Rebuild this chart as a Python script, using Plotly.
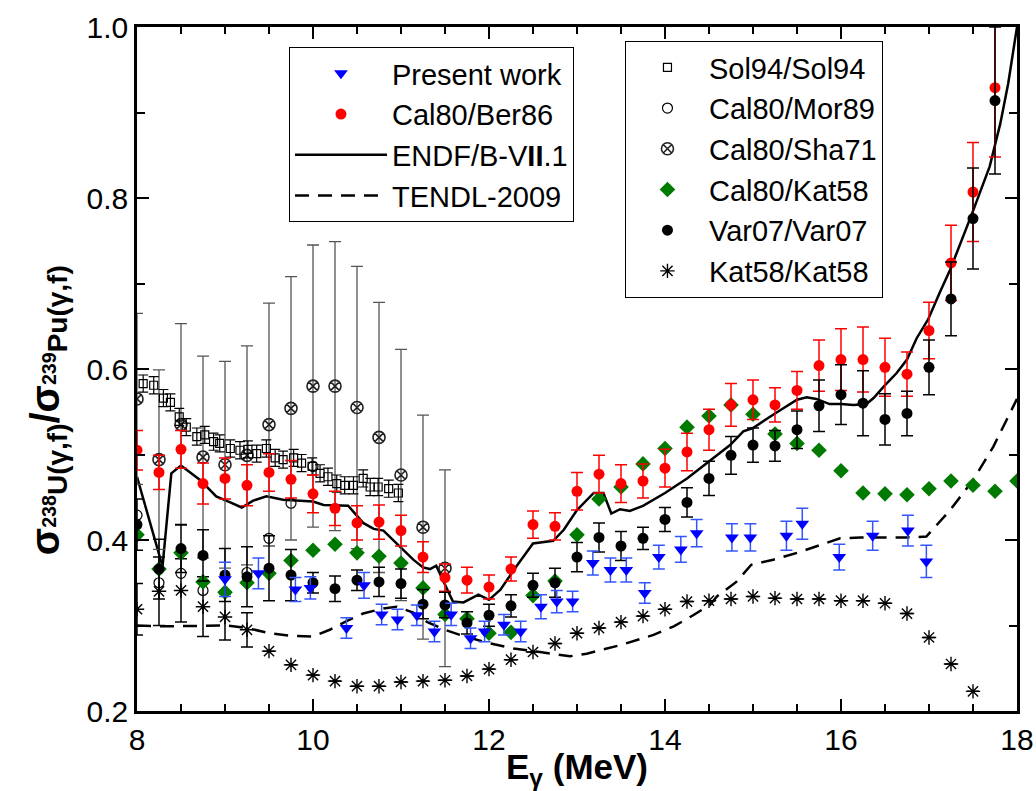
import plotly.graph_objects as go

# ---------------- data ----------------
# Present work (blue down-triangles)
pw_e = [9.00, 9.38, 9.80, 9.97, 10.38, 10.58, 10.78, 10.96, 11.18, 11.38, 11.57, 11.79,
        11.95, 12.17, 12.36, 12.59, 12.77, 12.95, 13.18, 13.38, 13.56, 13.77, 13.93, 14.18,
        14.36, 14.76, 14.97, 15.38, 15.56, 15.98, 16.36, 16.76, 16.97]
pw_r = [0.354, 0.361, 0.342, 0.344, 0.297, 0.347, 0.313, 0.307, 0.312, 0.293, 0.313, 0.285,
        0.293, 0.301, 0.293, 0.322, 0.328, 0.328, 0.373, 0.365, 0.365, 0.338, 0.380, 0.389,
        0.408, 0.403, 0.403, 0.405, 0.419, 0.380, 0.405, 0.411, 0.375]
pw_err = [0.020, 0.018, 0.014, 0.013, 0.012, 0.015, 0.012, 0.012, 0.012, 0.012, 0.013, 0.012,
          0.012, 0.012, 0.012, 0.014, 0.013, 0.012, 0.014, 0.014, 0.014, 0.012, 0.014, 0.015,
          0.016, 0.016, 0.016, 0.017, 0.018, 0.015, 0.017, 0.018, 0.019]

# Regular 0.25 MeV grid shared by several compilations
grid_e = [8.00, 8.25, 8.50, 8.75, 9.00, 9.25, 9.50, 9.75, 10.00, 10.25, 10.50, 10.75,
          11.00, 11.25, 11.50, 11.75, 12.00, 12.25, 12.50, 12.75, 13.00, 13.25, 13.50, 13.75,
          14.00, 14.25, 14.50, 14.75, 15.00, 15.25, 15.50, 15.75, 16.00, 16.25, 16.50, 16.75,
          17.00, 17.25, 17.50, 17.75]

# Cal80/Ber86 (red circles)
ber_r = [0.505, 0.479, 0.506, 0.466, 0.472, 0.464, 0.479, 0.471, 0.454, 0.437, 0.420, 0.421,
         0.411, 0.380, 0.356, 0.353, 0.345, 0.366, 0.418, 0.416, 0.457, 0.477, 0.466, 0.469,
         0.484, 0.503, 0.529, 0.558, 0.564, 0.558, 0.575, 0.604, 0.611, 0.611, 0.602, 0.594,
         0.645, 0.724, 0.807, 0.929]
ber_err = [0.023, 0.020, 0.022, 0.024, 0.024, 0.024, 0.022, 0.022, 0.022, 0.020, 0.020, 0.020,
           0.018, 0.018, 0.016, 0.015, 0.014, 0.014, 0.016, 0.016, 0.022, 0.022, 0.022, 0.020,
           0.022, 0.022, 0.024, 0.025, 0.023, 0.020, 0.022, 0.030, 0.036, 0.038, 0.034, 0.026,
           0.033, 0.044, 0.058, 0.081]

# Var07/Var07 (black circles)
var_r = [0.418, 0.366, 0.390, 0.382, 0.359, 0.357, 0.367, 0.359, 0.350, 0.343, 0.353, 0.351,
         0.349, 0.325, 0.324, 0.303, 0.312, 0.323, 0.347, 0.350, 0.380, 0.403, 0.393, 0.402,
         0.424, 0.444, 0.472, 0.499, 0.511, 0.510, 0.529, 0.557, 0.570, 0.560, 0.541, 0.548,
         0.602, 0.682, 0.776, 0.914]
var_err = [0.030, 0.035, 0.028, 0.030, 0.031, 0.035, 0.038, 0.030, 0.012, 0.015, 0.012, 0.017,
           0.017, 0.017, 0.015, 0.013, 0.013, 0.013, 0.014, 0.017, 0.017, 0.017, 0.017, 0.013,
           0.014, 0.017, 0.020, 0.022, 0.020, 0.018, 0.022, 0.030, 0.035, 0.038, 0.030, 0.026,
           0.032, 0.043, 0.059, 0.086]

# Cal80/Kat58 (green diamonds)
ck_e = grid_e + [18.00]
ck_r = [0.406, 0.366, 0.385, 0.351, 0.339, 0.350, 0.361, 0.376, 0.388, 0.395, 0.385, 0.381,
        0.373, 0.344, 0.313, 0.308, 0.291, 0.292, 0.335, 0.352, 0.406, 0.448, 0.462, 0.489,
        0.507, 0.532, 0.545, 0.558, 0.547, 0.524, 0.513, 0.505, 0.481, 0.455, 0.454, 0.453,
        0.460, 0.469, 0.464, 0.457, 0.469]

# Kat58/Kat58 (asterisks)
kat_e = grid_e[:39]
kat_r = [0.319, 0.340, 0.341, 0.322, 0.310, 0.295, 0.270, 0.254, 0.242, 0.235, 0.229, 0.229,
         0.234, 0.235, 0.236, 0.241, 0.249, 0.260, 0.269, 0.279, 0.291, 0.297, 0.304, 0.311,
         0.319, 0.328, 0.329, 0.331, 0.334, 0.332, 0.331, 0.331, 0.329, 0.329, 0.326, 0.314,
         0.286, 0.255, 0.223]
kat_err = [0.030, 0.040, 0.037, 0.035, 0.027, 0.020] + [0.0] * 33

# Cal80/Mor89 (open circles)
mor_e = [8.00, 8.25, 8.50, 8.75, 9.25, 9.50, 9.75, 10.00]
mor_r = [0.429, 0.350, 0.361, 0.341, 0.362, 0.402, 0.443, 0.486]

# Cal80/Sha71 (crossed circles)
sha_e = [8.00, 8.25, 8.50, 8.75, 9.00, 9.25, 9.50, 9.75, 10.00, 10.25, 10.50, 10.75,
         11.00, 11.25, 11.50]
sha_r = [0.565, 0.494, 0.535, 0.497, 0.488, 0.499, 0.535, 0.554, 0.580, 0.580, 0.555, 0.520,
         0.476, 0.415, 0.367]
sha_err = [0.100, 0.105, 0.118, 0.118, 0.121, 0.128, 0.142, 0.154, 0.165, 0.169, 0.165, 0.158,
           0.147, 0.131, 0.115]

# Sol94/Sol94 (open squares)
sol_e = [8.07, 8.19, 8.30, 8.38, 8.48, 8.56, 8.68, 8.77, 8.87, 8.94, 9.06, 9.17, 9.26, 9.36,
         9.47, 9.57, 9.66, 9.78, 9.87, 9.99, 10.08, 10.17, 10.27, 10.36, 10.46, 10.57, 10.65,
         10.74, 10.86, 10.97]
sol_r = [0.583, 0.581, 0.566, 0.561, 0.544, 0.532, 0.521, 0.523, 0.515, 0.513, 0.507, 0.505,
         0.506, 0.501, 0.507, 0.496, 0.494, 0.496, 0.490, 0.486, 0.478, 0.474, 0.466, 0.464,
         0.464, 0.472, 0.462, 0.462, 0.460, 0.455]
sol_err = [0.010] * 30

# ENDF/B-VII.1 evaluation
endf_e = [8.00, 8.29, 8.39, 8.50, 8.72, 8.90, 9.06, 9.19, 9.32, 9.47, 9.66, 9.85, 10.00,
          10.12, 10.40, 10.57, 10.69, 10.80, 10.95, 11.14, 11.25, 11.33, 11.40, 11.50, 11.59,
          11.71, 11.88, 12.00, 12.13, 12.31, 12.50, 12.73, 12.85, 13.00, 13.19, 13.30, 13.39,
          13.49, 13.60, 13.75, 13.87, 14.00, 14.25, 14.40, 14.59, 14.74, 14.89, 15.00, 15.25,
          15.50, 15.61, 15.72, 15.87, 16.00, 16.14, 16.29, 16.37, 16.49, 16.63, 16.75, 16.86,
          16.99, 17.12, 17.24, 17.49, 17.69, 17.81, 17.90, 18.00]
endf_r = [0.474, 0.369, 0.478, 0.487, 0.470, 0.451, 0.444, 0.438, 0.446, 0.451, 0.447, 0.446,
          0.445, 0.441, 0.440, 0.420, 0.413, 0.411, 0.396, 0.377, 0.368, 0.366, 0.370, 0.347,
          0.328, 0.327, 0.336, 0.330, 0.342, 0.369, 0.396, 0.399, 0.412, 0.435, 0.455, 0.455,
          0.431, 0.436, 0.434, 0.440, 0.447, 0.455, 0.472, 0.484, 0.499, 0.511, 0.527, 0.531,
          0.548, 0.564, 0.567, 0.565, 0.559, 0.559, 0.558, 0.559, 0.566, 0.580, 0.595, 0.611,
          0.636, 0.658, 0.689, 0.716, 0.782, 0.837, 0.887, 0.934, 1.000]

# TENDL-2009 evaluation
tendl_e = [8.00, 8.26, 9.02, 9.25, 9.51, 9.74, 10.00, 10.19, 10.38, 10.57, 10.80, 10.95,
           11.14, 11.30, 11.50, 11.67, 11.97, 12.28, 12.58, 12.92, 13.11, 13.49, 13.87, 14.10,
           14.32, 14.51, 14.59, 14.81, 14.98, 15.23, 15.50, 15.72, 15.99, 16.22, 16.75, 16.97,
           17.24, 17.50, 17.73, 18.00]
tendl_r = [0.300, 0.299, 0.300, 0.297, 0.291, 0.288, 0.287, 0.295, 0.305, 0.314, 0.320, 0.322,
           0.315, 0.304, 0.295, 0.289, 0.280, 0.273, 0.269, 0.264, 0.267, 0.277, 0.289, 0.299,
           0.312, 0.324, 0.334, 0.351, 0.371, 0.377, 0.385, 0.393, 0.402, 0.403, 0.403, 0.404,
           0.435, 0.470, 0.509, 0.565]

x_ticks = [8, 10, 12, 14, 16, 18]
y_ticks = [0.2, 0.4, 0.6, 0.8, 1.0]

# ---------------- figure ----------------
FONT = "Liberation Sans, Arial, Helvetica, sans-serif"
fig = go.Figure()


def err(vals, color, width=6, thick=1.5):
    return dict(type="data", array=vals, symmetric=True, color=color,
                thickness=thick, width=width)


# model curves
fig.add_trace(go.Scatter(x=endf_e, y=endf_r, mode="lines", name="ENDF/B-V<b>II</b>.1",
                         line=dict(color="black", width=2.5), legend="legend", legendrank=3))
fig.add_trace(go.Scatter(x=tendl_e, y=tendl_r, mode="lines", name="TENDL-2009",
                         line=dict(color="black", width=2.5, dash="14px,9px"),
                         legend="legend", legendrank=4))

# data sets
fig.add_trace(go.Scatter(x=sha_e, y=sha_r, mode="markers", name="Cal80/Sha71",
                         marker=dict(symbol="circle-x-open", size=12,
                                     line=dict(color="#222222", width=1.6), color="#222222"),
                         error_y=err(sha_err, "#555555", thick=1.3),
                         legend="legend2", legendrank=3))
fig.add_trace(go.Scatter(x=sol_e, y=sol_r, mode="markers", name="Sol94/Sol94",
                         marker=dict(symbol="square-open", size=8,
                                     line=dict(color="black", width=1.2), color="black"),
                         error_y=err(sol_err, "black", width=5, thick=1.2),
                         legend="legend2", legendrank=1))
fig.add_trace(go.Scatter(x=mor_e, y=mor_r, mode="markers", name="Cal80/Mor89",
                         marker=dict(symbol="circle-open", size=10,
                                     line=dict(color="black", width=1.2), color="black"),
                         legend="legend2", legendrank=2))
fig.add_trace(go.Scatter(x=kat_e, y=kat_r, mode="markers", name="Kat58/Kat58",
                         marker=dict(symbol="asterisk-open", size=12,
                                     line=dict(color="black", width=1.4), color="black"),
                         error_y=err(kat_err, "black"),
                         legend="legend2", legendrank=6))
fig.add_trace(go.Scatter(x=ck_e, y=ck_r, mode="markers", name="Cal80/Kat58",
                         marker=dict(symbol="diamond", size=12, color="#007a00"),
                         legend="legend2", legendrank=4))
fig.add_trace(go.Scatter(x=grid_e, y=ber_r, mode="markers", name="Cal80/Ber86",
                         marker=dict(symbol="circle", size=11, color="#ff0000"),
                         error_y=err(ber_err, "#ff0000"),
                         legend="legend", legendrank=2))
fig.add_trace(go.Scatter(x=grid_e, y=var_r, mode="markers", name="Var07/Var07",
                         marker=dict(symbol="circle", size=11, color="black"),
                         error_y=err(var_err, "black"),
                         legend="legend2", legendrank=5))
fig.add_trace(go.Scatter(x=pw_e, y=pw_r, mode="markers", name="Present work",
                         marker=dict(symbol="triangle-down", size=12, color="#0000ff"),
                         error_y=err(pw_err, "#3355ff"),
                         legend="legend", legendrank=1))

axis_common = dict(showline=True, linecolor="black", linewidth=2.5, mirror="allticks",
                   ticks="inside", tickcolor="black", tickwidth=2, ticklen=12,
                   showgrid=False, zeroline=False, automargin=False,
                   tickfont=dict(family=FONT, size=30, color="black"))

fig.update_xaxes(range=[8, 18], tickvals=x_ticks,
                 minor=dict(dtick=0.5, ticks="inside", ticklen=7, tickwidth=2,
                            tickcolor="black", showgrid=False),
                 title=dict(text="<b>E<sub>γ</sub> (MeV)</b>", standoff=4,
                            font=dict(family=FONT, size=35, color="black")),
                 **axis_common)
fig.update_yaxes(range=[0.2, 1.0], tickvals=y_ticks, tickformat=".1f",
                 minor=dict(dtick=0.1, ticks="inside", ticklen=8, tickwidth=2,
                            tickcolor="black", showgrid=False),
                 **axis_common)

fig.add_annotation(
    text="<b>σ<sub><sup>238</sup>U(γ,f)</sub>/σ<sub><sup>239</sup>Pu(γ,f)</sub></b>",
    xref="paper", yref="paper", x=-0.101, y=0.44, xanchor="center", yanchor="middle",
    textangle=-90, showarrow=False, font=dict(family=FONT, size=40, color="black"))

legend_font = dict(family=FONT, size=29, color="black")
fig.update_layout(
    width=1036, height=791,
    margin=dict(l=137, r=19, t=27, b=80, autoexpand=False),
    paper_bgcolor="white", plot_bgcolor="white",
    font=dict(family=FONT, color="black"),
    legend=dict(x=0.1727, y=0.9708, xanchor="left", yanchor="top",
                bgcolor="white", bordercolor="black", borderwidth=1,
                font=legend_font, itemwidth=92, tracegroupgap=0),
    legend2=dict(x=0.5545, y=0.9795, xanchor="left", yanchor="top",
                 bgcolor="white", bordercolor="black", borderwidth=1,
                 font=legend_font, itemwidth=73, tracegroupgap=0),
)

fig.write_html("out.html")
